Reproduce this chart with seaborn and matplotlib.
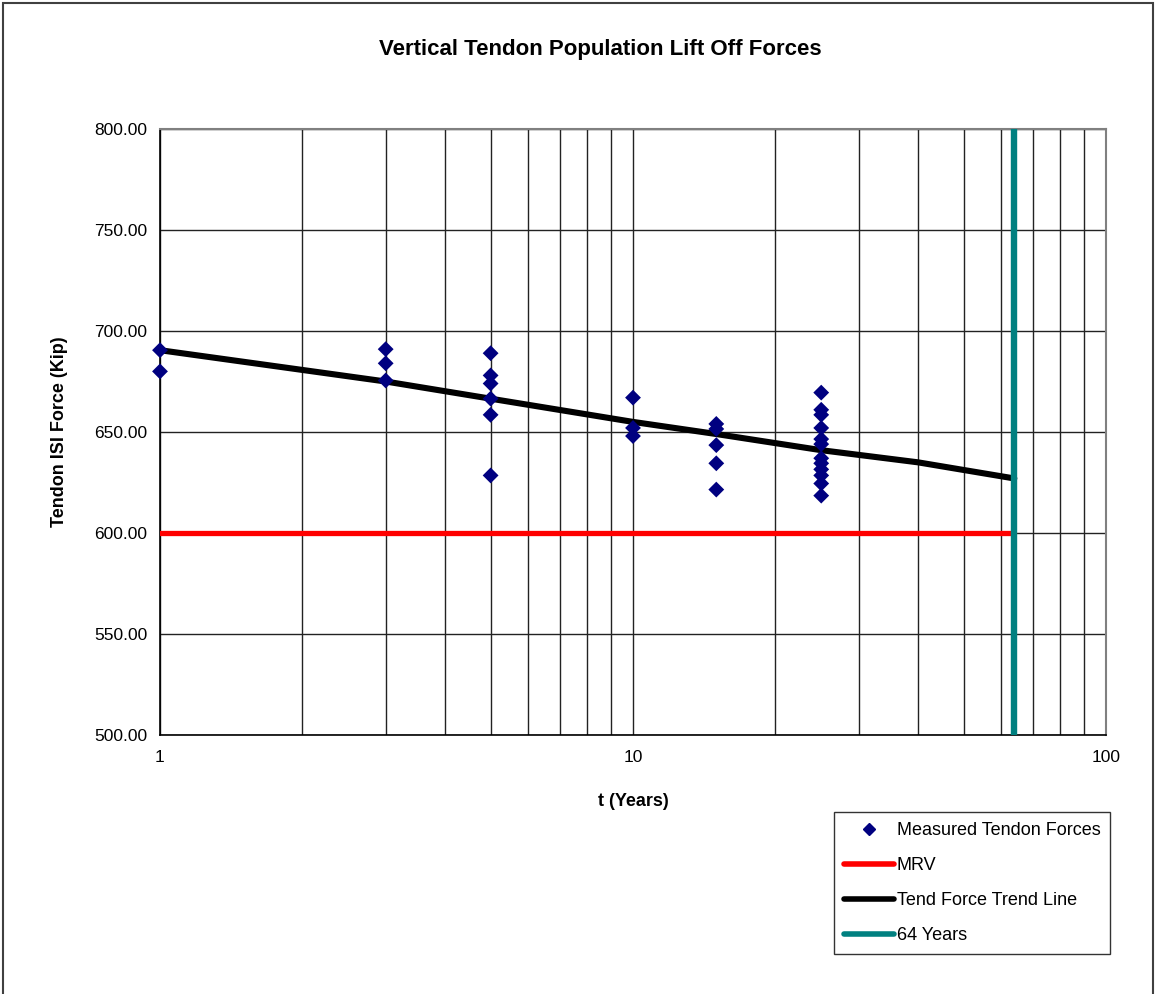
import matplotlib
matplotlib.use("Agg")
import matplotlib.pyplot as plt
import seaborn as sns
import pandas as pd
from matplotlib.lines import Line2D
from matplotlib.patches import Rectangle
from matplotlib.ticker import FixedLocator, FixedFormatter, NullFormatter, LogLocator

# ---- data ----
meas_years = [1, 1,
              3, 3, 3,
              5, 5, 5, 5, 5, 5,
              10, 10, 10,
              15, 15, 15, 15, 15,
              25, 25, 25, 25, 25, 25, 25, 25, 25, 25, 25, 25]
meas_force = [690.5, 680.0,
              691.0, 684.0, 675.5,
              689.0, 678.0, 674.0, 666.5, 658.5, 628.5,
              667.0, 652.0, 648.0,
              654.0, 651.5, 643.5, 634.5, 621.5,
              669.5, 661.0, 658.5, 652.0, 646.5, 644.0, 637.0, 634.5, 631.5, 628.5, 624.5, 618.5]

trend_years = [1, 3, 5, 10, 15, 25, 40, 64]
trend_force = [690.5, 675.0, 666.5, 655.0, 649.0, 641.0, 635.0, 627.0]

mrv_years = [1, 64]
mrv_force = [600, 600]

life_years = [64, 64]
life_force = [500, 800]

y_ticks = [500, 550, 600, 650, 700, 750, 800]
x_ticks = [1, 10, 100]
x_tick_labels = ["1", "10", "100"]

# ---- style ----
sns.set_style("white")
plt.rcParams['font.family'] = ['Liberation Sans', 'DejaVu Sans']
plt.rcParams['text.color'] = 'black'
plt.rcParams['axes.labelcolor'] = 'black'
plt.rcParams['xtick.color'] = 'black'
plt.rcParams['ytick.color'] = 'black'

fig = plt.figure(figsize=(11.56, 9.94), dpi=100)
ax = fig.add_axes([160/1156, 1-735/994, (1106-160)/1156, (735-129)/994])

meas_df = pd.DataFrame({"t": meas_years, "F": meas_force})
trend_df = pd.DataFrame({"t": trend_years, "F": trend_force})
mrv_df = pd.DataFrame({"t": mrv_years, "F": mrv_force})
life_df = pd.DataFrame({"t": life_years, "F": life_force})

sns.lineplot(data=mrv_df, x="t", y="F", ax=ax, color="#ff0000", linewidth=3.8,
             sort=False, estimator=None, errorbar=None, zorder=3)
sns.lineplot(data=trend_df, x="t", y="F", ax=ax, color="black", linewidth=4.4,
             sort=False, estimator=None, errorbar=None, zorder=4)
sns.lineplot(data=life_df, x="t", y="F", ax=ax, color="#008080", linewidth=4.6,
             sort=False, estimator=None, errorbar=None, zorder=5)
sns.scatterplot(data=meas_df, x="t", y="F", ax=ax, marker="D", s=65,
                color="#000080", edgecolor="none", linewidth=0, zorder=6,
                clip_on=False)

ax.set_xscale("log")
ax.set_xlim(1, 100)
ax.set_ylim(500, 800)
ax.xaxis.set_major_locator(FixedLocator(x_ticks))
ax.xaxis.set_major_formatter(FixedFormatter(x_tick_labels))
ax.xaxis.set_minor_locator(LogLocator(base=10, subs=range(2, 10)))
ax.xaxis.set_minor_formatter(NullFormatter())
ax.set_yticks(y_ticks)
ax.set_yticklabels([f"{v:.2f}" for v in y_ticks])

ax.grid(True, which="major", axis="both", color="#222222", linewidth=1.0)
ax.grid(True, which="minor", axis="x", color="#222222", linewidth=1.0)
ax.set_axisbelow(True)

for side in ["left", "bottom"]:
    ax.spines[side].set_color("black")
    ax.spines[side].set_linewidth(1.2)
for side in ["top", "right"]:
    ax.spines[side].set_color("#808080")
    ax.spines[side].set_linewidth(1.5)

ax.tick_params(axis="both", which="major", direction="out", length=5, width=1,
               color="black", labelsize=12.5, labelcolor="black", pad=4)
ax.tick_params(axis="x", which="minor", length=0)
ax.tick_params(axis="x", which="major", pad=6)

ax.set_xlabel("")
ax.set_ylabel("")
fig.text(633/1156, 1-802/994, "t (Years)", ha="center", va="center",
         fontsize=13, fontweight="bold")
fig.text(60/1156, 1-432/994, "Tendon ISI Force (Kip)", ha="center", va="center",
         fontsize=13, fontweight="bold", rotation=90)
fig.text(600/1156, 1-50/994, "Vertical Tendon Population Lift Off Forces",
         ha="center", va="center", fontsize=16, fontweight="bold")

handles = [
    Line2D([], [], linestyle="none", marker="D", markersize=6,
           markerfacecolor="#000080", markeredgecolor="#000080"),
    Line2D([], [], color="#ff0000", linewidth=4),
    Line2D([], [], color="black", linewidth=4),
    Line2D([], [], color="#008080", linewidth=4),
]
labels = ["Measured Tendon Forces", "MRV", "Tend Force Trend Line", "64 Years"]
leg = fig.legend(handles, labels, loc="upper left",
                 bbox_to_anchor=(834/1156, 1-812/994),
                 frameon=True, fancybox=False, fontsize=13,
                 handlelength=2.8, handletextpad=0.12, labelspacing=1.0,
                 borderpad=0.55, borderaxespad=0)
leg.get_frame().set_edgecolor("black")
leg.get_frame().set_linewidth(1.0)

# outer chart border
fig.patches.append(Rectangle((3/1156, -0.01), 1150/1156, 1 - 3/994 + 0.01,
                             transform=fig.transFigure, fill=False,
                             edgecolor="#404040", linewidth=1.5))

fig.savefig("out.png", dpi=100)
